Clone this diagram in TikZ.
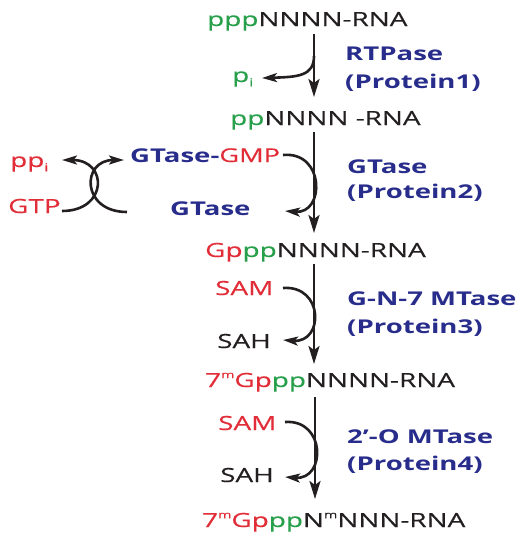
\documentclass[tikz,border=0pt]{standalone}
\usepackage{fontspec}
\setmainfont[FakeStretch=1.43,UprightFeatures={FakeBold=0.35},BoldFeatures={FakeStretch=1.45}]{Open Sans}
\usetikzlibrary{arrows.meta}
\definecolor{cg}{RGB}{40,160,75}
\definecolor{cr}{RGB}{225,45,55}
\definecolor{cb}{RGB}{40,45,140}
\definecolor{ck}{RGB}{35,31,32}
\newcommand{\supm}{\raisebox{0.45em}{\fontsize{10}{10}\selectfont m}}
\newcommand{\subi}{\raisebox{-0.22em}{\fontsize{11}{11}\selectfont i}}
\begin{document}
\begin{tikzpicture}[x=1pt,y=-1pt,
 txt/.style={anchor=base west,inner sep=0pt,font=\fontsize{19.5}{22}\selectfont,text=ck},
 lbl/.style={anchor=base west,inner sep=0pt,font=\fontsize{19}{22}\selectfont\bfseries,text=cb},
 arr/.style={draw=ck,line width=2.6pt,-{Stealth[length=18pt,width=11pt,inset=4pt]}},
 carr/.style={draw=ck,line width=2.6pt,-{Stealth[length=15pt,width=9pt,inset=3.5pt]}}]
\useasboundingbox (0,0) rectangle (521,539);
% rows
\node[txt] (r1) at (207,26) {\textcolor{cg}{ppp}NNNN-RNA};
\node[txt] (r2) at (230,125) {\textcolor{cg}{pp}NNNN -RNA};
\node[txt] (r3) at (205,257) {\textcolor{cr}{Gp}\textcolor{cg}{pp}NNNN-RNA};
\node[txt] (r4) at (205,387) {\textcolor{cr}{7\supm Gp}\textcolor{cg}{pp}NNNN-RNA};
\node[txt] (r5) at (202,527) {\textcolor{cr}{7\supm Gp}\textcolor{cg}{pp}N\supm NNN-RNA};
% side species
\node[txt,text=cg] (pi) at (232,82) {p\subi};
\node[txt,text=cr] (ppi) at (10,167) {pp\subi};
\node[txt,text=cr] (gtp) at (8,213) {GTP};
\node[lbl] (gmp) at (130,162) {GTase-\textcolor{cr}{\mdseries GMP}};
\node[lbl] (gt) at (170,215) {GTase};
\node[txt,text=cr] (sam1) at (215,295) {SAM};
\node[txt] (sah1) at (217,348) {SAH};
\node[txt,text=cr] (sam2) at (218,430) {SAM};
\node[txt] (sah2) at (220,482) {SAH};
% enzyme labels
\node[lbl] (e1a) at (345,60) {RTPase};
\node[lbl] (e1b) at (345,88) {(Protein1)};
\node[lbl] (e2a) at (347,173) {GTase};
\node[lbl] (e2b) at (347,198) {(Protein2)};
\node[lbl] (e3a) at (347,305) {G-N-7 MTase};
\node[lbl] (e3b) at (347,333) {(Protein3)};
\node[lbl] (e4a) at (347,443) {2'-O MTase};
\node[lbl] (e4b) at (347,470) {(Protein4)};
% main arrow coordinates
\coordinate (a1s) at (314,34);  \coordinate (a1e) at (314,97);
\coordinate (a2s) at (314,132); \coordinate (a2e) at (314,233);
\coordinate (a3s) at (314,264); \coordinate (a3e) at (314,364);
\coordinate (a4s) at (315,397); \coordinate (a4e) at (315,499);
\draw[arr] (a1s) -- (a1e);
\draw[arr] (a2s) -- (a2e);
\draw[arr] (a3s) -- (a3e);
\draw[arr] (a4s) -- (a4e);
% side curves
\coordinate (c1s) at (314,56); \coordinate (c1e) at (262,78);
\draw[carr] (c1s) .. controls (314,76) and (298,77) .. (c1e);
\coordinate (c2s) at (283,155); \coordinate (c2e) at (285,211);
\draw[carr] (c2s) .. controls (325,151) and (325,214) .. (c2e);
\coordinate (c3s) at (283,288); \coordinate (c3e) at (283,340);
\draw[carr] (c3s) .. controls (324,285) and (324,343) .. (c3e);
\coordinate (c4s) at (285,422); \coordinate (c4e) at (285,477);
\draw[carr] (c4s) .. controls (326,419) and (326,480) .. (c4e);
% crossing curves
\coordinate (x1s) at (62,211); \coordinate (x1e) at (62,160);
\draw[carr] (x1s) .. controls (108,211) and (108,160) .. (x1e);
\coordinate (x2s) at (127,212); \coordinate (x2e) at (124,160);
\draw[carr] (x2s) .. controls (81,212) and (81,160) .. (x2e);
\end{tikzpicture}
\end{document}
